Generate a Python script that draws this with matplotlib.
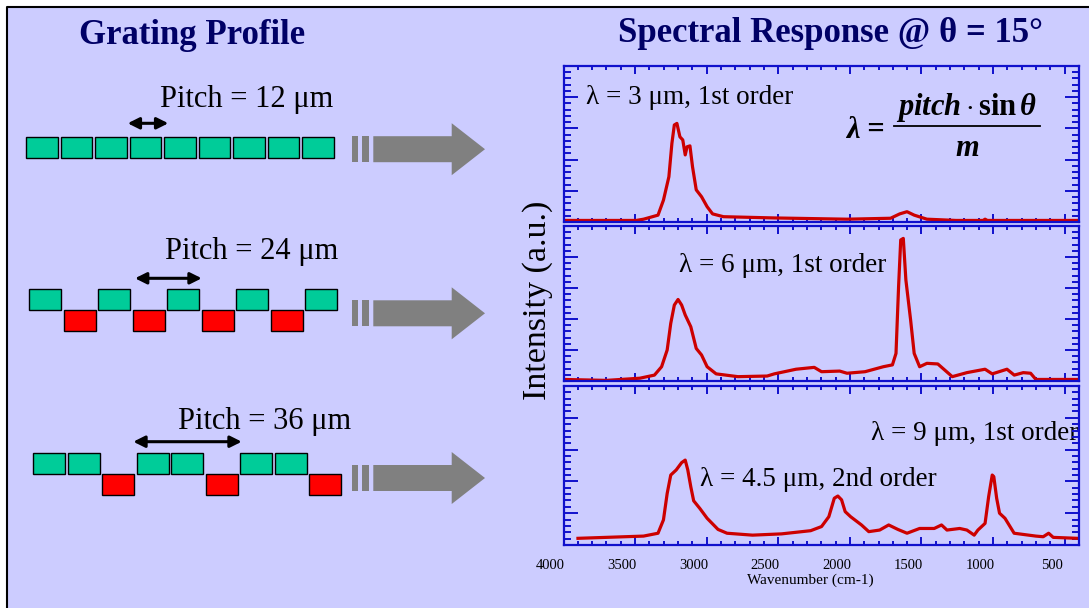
import matplotlib.pyplot as plt
from matplotlib.patches import Rectangle, Polygon
from matplotlib.ticker import MultipleLocator, NullFormatter
from matplotlib.transforms import ScaledTranslation

plt.rcParams['font.family'] = ['Liberation Serif', 'DejaVu Serif']
plt.rcParams['mathtext.fontset'] = 'custom'
plt.rcParams['mathtext.rm'] = 'Liberation Serif'
plt.rcParams['mathtext.it'] = 'Liberation Serif:italic'
plt.rcParams['mathtext.bf'] = 'Liberation Serif:bold'
plt.rcParams['mathtext.bfit'] = 'Liberation Serif:italic:bold'

W, H = 1089, 608

# --- spectra (wavenumber in cm-1, intensity in arbitrary units) ---
wn_3um = [4000, 3492, 3441, 3340, 3302, 3264, 3243, 3226, 3208, 3187, 3167, 3150,
          3137, 3117, 3099, 3073, 3036, 2997, 2959, 2883, 2528, 2020, 1716, 1652,
          1601, 1551, 1462, 1259, 1070, 1056, 1040, 400]
int_3um = [0.05, 0.05, 0.09, 0.22, 0.70, 1.45, 2.52, 3.11, 3.16, 2.73, 2.63, 2.15,
           2.41, 2.44, 1.77, 1.03, 0.81, 0.49, 0.26, 0.17, 0.13, 0.09, 0.12, 0.26,
           0.33, 0.22, 0.09, 0.05, 0.05, 0.09, 0.05, 0.05]

wn_6um = [4000, 3700, 3467, 3365, 3315, 3276, 3251, 3226, 3200, 3175, 3150, 3111,
          3073, 3036, 2997, 2934, 2782, 2578, 2528, 2376, 2249, 2198, 2071, 2020,
          1894, 1767, 1703, 1678, 1660, 1645, 1627, 1609, 1576, 1551, 1513, 1462,
          1386, 1285, 1183, 1056, 1006, 903, 852, 789, 738, 701, 400]
int_6um = [0.05, 0.02, 0.09, 0.19, 0.46, 1.00, 1.86, 2.45, 2.63, 2.45, 2.13, 1.75,
           1.05, 0.84, 0.46, 0.23, 0.14, 0.16, 0.23, 0.38, 0.44, 0.30, 0.32, 0.25,
           0.30, 0.46, 0.52, 0.89, 3.04, 4.55, 4.60, 3.26, 1.97, 0.89, 0.46, 0.57,
           0.55, 0.14, 0.27, 0.38, 0.23, 0.38, 0.19, 0.27, 0.25, 0.05, 0.05]

wn_9um = [3899, 3441, 3340, 3302, 3276, 3251, 3213, 3175, 3150, 3132, 3111, 3091,
          3048, 2997, 2921, 2858, 2680, 2477, 2274, 2198, 2147, 2109, 2084, 2058,
          2033, 1995, 1919, 1868, 1792, 1729, 1665, 1601, 1513, 1411, 1360, 1322,
          1233, 1183, 1132, 1106, 1056, 1031, 1006, 995, 975, 955, 917, 853, 701,
          650, 612, 580, 412]
int_9um = [0.21, 0.28, 0.37, 0.79, 1.62, 2.20, 2.36, 2.59, 2.67, 2.36, 1.83, 1.39,
           1.15, 0.84, 0.49, 0.37, 0.31, 0.35, 0.45, 0.58, 0.89, 1.47, 1.54, 1.42,
           1.05, 0.89, 0.63, 0.42, 0.47, 0.63, 0.49, 0.37, 0.52, 0.52, 0.63, 0.47,
           0.52, 0.47, 0.31, 0.47, 0.68, 1.52, 2.20, 2.15, 1.47, 1.00, 0.84, 0.37,
           0.28, 0.26, 0.37, 0.24, 0.21]

xtick_vals = [4000, 3500, 3000, 2500, 2000, 1500, 1000, 500]

# --- grating profiles: T = raised (teal), R = recessed (red) ---
grating_patterns = ['TTTTTTTTT', 'TRTRTRTRT', 'TTRTTRTTR']
pitch_labels = ['Pitch = 12 \u03bcm', 'Pitch = 24 \u03bcm', 'Pitch = 36 \u03bcm']

bg_col = '#CCCCFF'
navy = '#000066'
teal = '#00CC99'
red = '#FF0000'
axis_blue = '#1010CC'
spec_red = '#CC0000'

fig = plt.figure(figsize=(W / 100, H / 100), dpi=100)
fig.patch.set_facecolor('white')

bg = fig.add_axes([0, 0, 1, 1])
bg.set_xlim(0, W)
bg.set_ylim(H, 0)
bg.axis('off')
bg.add_patch(Rectangle((7, 7), W - 7, H - 7, facecolor=bg_col, edgecolor='none'))
bg.plot([7, 7, W], [H, 7, 7], color='black', lw=1.5)

bg.text(192, 36, 'Grating Profile', fontsize=25, fontweight='bold', color=navy,
        ha='center', va='center')
bg.text(830, 33, 'Spectral Response @ \u03b8 = 15\u00b0', fontsize=25, fontweight='bold',
        color=navy, ha='center', va='center')

# grating rows
row_x0 = [26, 29.3, 33.3]
row_top = [137.3, 289.3, 452.7]
row_mid = [149.2, 313.3, 478]
block_pitch = 34.5
block_w, block_h = 31.7, 21
label_pos = [(246.5, 100), (251.7, 251.7), (264.7, 421.7)]
arrow_span = [(127.7, 168.3, 123.3), (135, 201.7, 278.3), (133.3, 241.7, 441.7)]

for r, pat in enumerate(grating_patterns):
    for i, c in enumerate(pat):
        x = row_x0[r] + i * block_pitch
        y = row_top[r] + (block_h if c == 'R' else 0)
        bg.add_patch(Rectangle((x, y), block_w, block_h,
                               facecolor=teal if c == 'T' else red,
                               edgecolor='black', lw=1.0))
    lx, ly = label_pos[r]
    bg.text(lx, ly, pitch_labels[r], fontsize=22, ha='center', va='center')
    a0, a1, ay = arrow_span[r]
    bg.annotate('', xy=(a1, ay), xytext=(a0, ay),
                arrowprops=dict(arrowstyle='<|-|>', color='black', lw=2.2,
                                mutation_scale=17, shrinkA=0, shrinkB=0))
    # gray "continues" arrow
    ym = row_mid[r]
    bg.add_patch(Rectangle((352, ym - 13), 6, 26, facecolor='#808080', edgecolor='none'))
    bg.add_patch(Rectangle((361.7, ym - 13), 7.3, 26, facecolor='#808080', edgecolor='none'))
    bg.add_patch(Polygon([(373.3, ym - 13), (451.7, ym - 13), (451.7, ym - 26),
                          (485, ym), (451.7, ym + 26), (451.7, ym + 13),
                          (373.3, ym + 13)], closed=True,
                         facecolor='#808080', edgecolor='none'))

# spectra panels
def px_box(l, t, r, b):
    return [l / W, 1 - b / H, (r - l) / W, (b - t) / H]

boxes = [(563.5, 66, 1079, 222), (563.5, 226, 1079, 381), (563.5, 386, 1079, 545)]
series = [(wn_3um, int_3um), (wn_6um, int_6um), (wn_9um, int_9um)]
axes = []
for k, (box, (xs, ys)) in enumerate(zip(boxes, series)):
    ax = fig.add_axes(px_box(*box))
    ax.set_facecolor('none')
    ax.plot(xs, ys, color=spec_red, lw=2.3, solid_joinstyle='round')
    ax.set_xlim(4000, 400)
    ax.set_ylim(0, 5)
    ax.xaxis.set_major_locator(MultipleLocator(500))
    ax.xaxis.set_minor_locator(MultipleLocator(100))
    ax.yaxis.set_major_locator(MultipleLocator(1))
    ax.yaxis.set_minor_locator(MultipleLocator(0.2))
    for s in ax.spines.values():
        s.set_color(axis_blue)
        s.set_linewidth(1.6)
    ax.tick_params(axis='both', which='both', direction='in', top=True, right=True,
                   color=axis_blue, width=1.4)
    ax.tick_params(axis='x', which='major', length=5.5)
    ax.tick_params(axis='x', which='minor', length=3)
    ax.tick_params(axis='y', which='major', length=10)
    ax.tick_params(axis='y', which='minor', length=5)
    ax.yaxis.set_major_formatter(NullFormatter())
    if k < 2:
        ax.xaxis.set_major_formatter(NullFormatter())
    else:
        ax.set_xticks(xtick_vals)
        ax.set_xticklabels([str(v) for v in xtick_vals], fontsize=10.5)
        ax.tick_params(axis='x', pad=10)
        shift = ScaledTranslation(-13 / 100, 0, fig.dpi_scale_trans)
        for lab in ax.get_xticklabels():
            lab.set_transform(lab.get_transform() + shift)
    axes.append(ax)

bg.text(810, 580, 'Wavenumber (cm-1)', fontsize=11, ha='center', va='center')
bg.text(538, 300, 'Intensity (a.u.)', fontsize=24.5, rotation=90, ha='center', va='center')

bg.text(586, 98, '\u03bb = 3 \u03bcm, 1st order', fontsize=19.5, ha='left', va='center')
bg.text(679, 266, '\u03bb = 6 \u03bcm, 1st order', fontsize=19.5, ha='left', va='center')
bg.text(1078, 433, '\u03bb = 9 \u03bcm, 1st order', fontsize=19.5, ha='right', va='center')
bg.text(700, 480, '\u03bb = 4.5 \u03bcm, 2nd order', fontsize=19.5, ha='left', va='center')

# grating equation
bg.text(865, 131, '\u03bb =', fontsize=22, fontweight='bold', style='italic',
        ha='center', va='center')
bg.text(966, 108, r'$\mathbfit{pitch}\cdot\mathbf{sin}\,\mathbfit{\theta}$', fontsize=22,
        ha='center', va='center')
bg.plot([894, 1040], [125.5, 125.5], color='black', lw=1.3)
bg.text(967, 148, r'$\mathbfit{m}$', fontsize=22, ha='center', va='center')

fig.savefig('out.png', dpi=100, facecolor=fig.get_facecolor())
